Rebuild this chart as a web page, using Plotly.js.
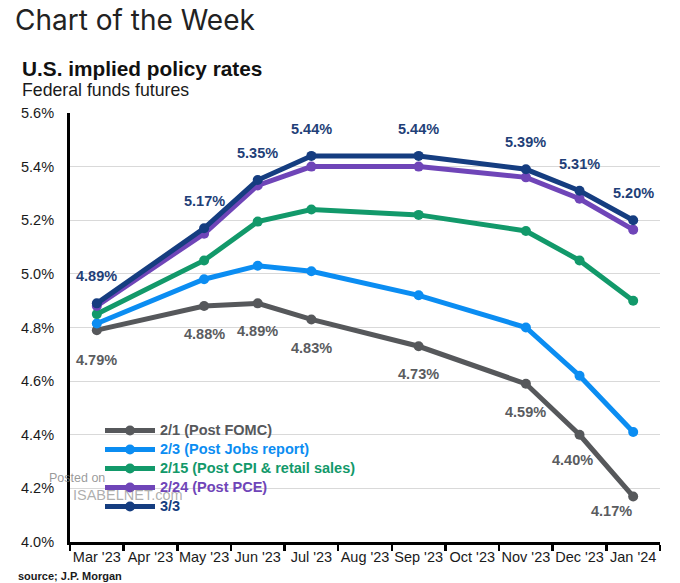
<!DOCTYPE html>
<html>
<head>
<meta charset="utf-8">
<script src="https://cdn.plot.ly/plotly-3.0.1.min.js"></script>
<style>
  html, body { margin: 0; padding: 0; background: #ffffff; }
  #chart { width: 680px; height: 583px; }
</style>
</head>
<body>
<div id="chart"></div>
<script>
// ---------- DATA ----------
const months = ["Mar '23", "Apr '23", "May '23", "Jun '23", "Jul '23", "Aug '23",
                "Sep '23", "Oct '23", "Nov '23", "Dec '23", "Jan '24"];
const pointMonths = ["Mar '23", "May '23", "Jun '23", "Jul '23", "Sep '23", "Nov '23", "Dec '23", "Jan '24"];

const seriesNames = ["2/1 (Post FOMC)", "2/3 (Post Jobs report)", "2/15 (Post CPI & retail sales)", "2/24 (Post PCE)", "3/3"];
const post_fomc  = [4.79, 4.88, 4.89, 4.83, 4.73, 4.59, 4.40, 4.17];
const post_jobs  = [4.815, 4.98, 5.03, 5.01, 4.92, 4.80, 4.62, 4.41];
const post_cpi   = [4.85, 5.05, 5.195, 5.24, 5.22, 5.16, 5.05, 4.90];
const post_pce   = [4.88, 5.15, 5.33, 5.40, 5.40, 5.36, 5.28, 5.165];
const mar3       = [4.89, 5.17, 5.35, 5.44, 5.44, 5.39, 5.31, 5.20];

const yTicks = [4.0, 4.2, 4.4, 4.6, 4.8, 5.0, 5.2, 5.4, 5.6];

// ---------- STYLE ----------
const colors = ["#56585b", "#0b8df2", "#12996a", "#6f45b8", "#153d80"];
const labelColors = { top: "#1f3f78", bottom: "#5a5c5f" };
const FONT = "'Liberation Sans', Arial, Helvetica, sans-serif";
const TITLE_FONT = "Inter, 'Liberation Sans', Arial, sans-serif";
const W = 680, H = 583;
const M = { l: 70, r: 20, t: 113, b: 41 };
const pw = W - M.l - M.r, ph = H - M.t - M.b;
const px = v => (v - M.l) / pw;          // pixel -> paper x
const py = v => (H - M.b - v) / ph;      // pixel -> paper y

const allSeries = [post_fomc, post_jobs, post_cpi, post_pce, mar3];

const traces = allSeries.map((vals, i) => ({
  type: "scatter",
  mode: "lines+markers",
  x: pointMonths,
  y: vals,
  name: '<span style="color:' + colors[i] + ';font-size:14.5px">' + seriesNames[i].replace("&", "&amp;") + '</span>',
  line: { color: colors[i], width: 5 },
  marker: { color: colors[i], size: 10 },
  hoverinfo: "x+y"
}));

// Value labels
const fmt = v => v.toFixed(2) + "%";
const grayShiftX = [0, 0, 0, 0, 0, 0, -7, -22];
const grayShiftY = [-30, -28, -28, -29, -28, -28, -25, -15];
const annotations = [];
pointMonths.forEach((m, i) => {
  annotations.push({
    x: m, y: mar3[i], xref: "x", yref: "y", text: fmt(mar3[i]),
    showarrow: false, yshift: 27, yanchor: "middle",
    font: { family: FONT, size: 14.5, color: labelColors.top, weight: "bold" }
  });
  annotations.push({
    x: m, y: post_fomc[i], xref: "x", yref: "y", text: fmt(post_fomc[i]),
    showarrow: false, xshift: grayShiftX[i], yshift: grayShiftY[i], yanchor: "middle",
    font: { family: FONT, size: 14.5, color: labelColors.bottom, weight: "bold" }
  });
});

// Titles & texts
annotations.push(
  { xref: "paper", yref: "paper", x: px(13), y: py(20), xanchor: "left", yanchor: "middle",
    text: "Chart of the Week", showarrow: false,
    font: { family: TITLE_FONT, size: 28, color: "#222222" } },
  { xref: "paper", yref: "paper", x: px(20), y: py(68), xanchor: "left", yanchor: "middle",
    text: "<b>U.S. implied policy rates</b>", showarrow: false,
    font: { family: FONT, size: 20.8, color: "#111111" } },
  { xref: "paper", yref: "paper", x: px(20), y: py(90), xanchor: "left", yanchor: "middle",
    text: "Federal funds futures", showarrow: false,
    font: { family: FONT, size: 17.7, color: "#1a1a1a" } },
  { xref: "paper", yref: "paper", x: px(16), y: py(576), xanchor: "left", yanchor: "middle",
    text: "<b>source; J.P. Morgan</b>", showarrow: false,
    font: { family: FONT, size: 11, color: "#1a1a1a" } },
  { xref: "paper", yref: "paper", x: px(47), y: py(478), xanchor: "left", yanchor: "middle",
    text: "Posted on", showarrow: false,
    font: { family: FONT, size: 12.5, color: "rgba(120,120,120,0.75)" } },
  { xref: "paper", yref: "paper", x: px(71), y: py(495), xanchor: "left", yanchor: "middle",
    text: "ISABELNET.com", showarrow: false,
    font: { family: FONT, size: 14.5, color: "rgba(120,120,120,0.6)" } }
);

const layout = {
  width: W, height: H,
  margin: M,
  paper_bgcolor: "#ffffff",
  plot_bgcolor: "#ffffff",
  font: { family: FONT, size: 14, color: "#1a1a1a" },
  showlegend: true,
  legend: {
    x: px(100), y: py(416), xanchor: "left", yanchor: "top",
    bgcolor: "rgba(0,0,0,0)",
    font: { family: FONT, size: 12, weight: "bold" },
    tracegroupgap: 0,
    itemwidth: 50,
    traceorder: "normal"
  },
  xaxis: {
    type: "category",
    categoryorder: "array",
    categoryarray: months,
    tickvals: months,
    range: [-0.5, 10.5],
    tickson: "boundaries",
    tickangle: 0,
    ticks: "outside", ticklen: 6, tickwidth: 2.5, tickcolor: "#000000",
    showline: true, linecolor: "#000000", linewidth: 3,
    showgrid: false, zeroline: false,
    tickfont: { family: FONT, size: 14.5, color: "#1a1a1a" },
    fixedrange: true
  },
  yaxis: {
    range: [4.0, 5.6],
    tickvals: yTicks,
    ticktext: yTicks.map(v => v.toFixed(1) + "%"),
    showgrid: true, gridcolor: "#d9d9d9", gridwidth: 1,
    showline: true, linecolor: "#000000", linewidth: 3,
    zeroline: false,
    ticks: "",
    ticklabelstandoff: 10,
    tickfont: { family: FONT, size: 14.5, color: "#1a1a1a" },
    fixedrange: true
  },
  annotations: annotations
};

Plotly.newPlot("chart", traces, layout, { displayModeBar: false, staticPlot: true });
</script>
</body>
</html>
